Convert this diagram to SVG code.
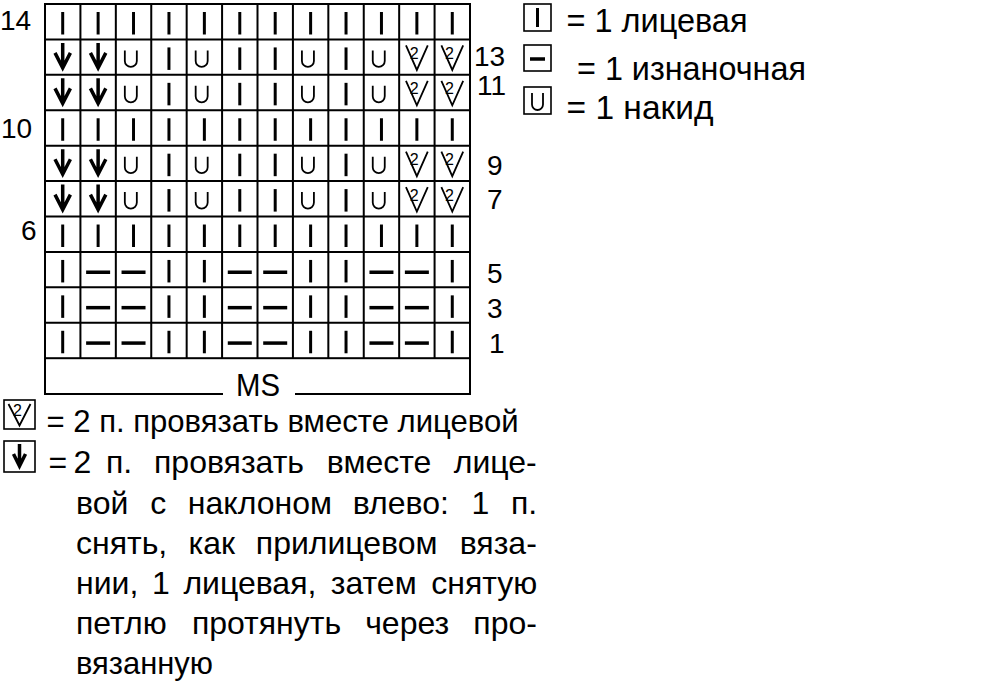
<svg xmlns="http://www.w3.org/2000/svg" width="1000" height="699" viewBox="0 0 1000 699">
<style>
.t{font-family:"Liberation Sans",Arial,sans-serif;fill:#000}
.n{font-size:28px}
.l{font-size:32px}
.r{font-size:33px}
.ln{fill:none;stroke:#000;stroke-width:2}
.box{fill:none;stroke:#000;stroke-width:1.6}
.sk{stroke:#000;stroke-width:3;fill:none}
.sp{stroke:#000;stroke-width:3.5;fill:none}
.su{stroke:#000;stroke-width:1.8;fill:none}
.sa{stroke:#000;stroke-width:3.5;fill:none;stroke-linejoin:miter;stroke-miterlimit:10}
.sv{stroke:#000;stroke-width:1.8;fill:none;stroke-linejoin:miter}
.two{font-family:"Liberation Sans",Arial,sans-serif;font-size:16px;fill:#000}
</style>
<defs>
<g id="k"><line class="sk" x1="17.7" y1="8" x2="17.7" y2="30.5"/></g>
<g id="p"><line class="sp" x1="5.7" y1="20.3" x2="29.7" y2="20.3"/></g>
<g id="u"><path class="su" d="M9 11V21.5A6 6 0 0 0 21 21.5V11"/></g>
<g id="a"><path class="sa" d="M17.7 3.5V28M10 13.5L17.7 28.5L25.4 13.5"/></g>
<g id="v"><path class="sv" d="M6.8 6L17.7 30.5L28.6 6"/><text class="two" x="10.5" y="19.5">2</text></g>
</defs>
<rect width="1000" height="699" fill="#fff"/>

<g id="chart-grid">
<rect class="ln" x="45" y="4" width="425" height="354.2"/>
<path class="ln" d="M80.42 4V358.2M115.83 4V358.2M151.25 4V358.2M186.67 4V358.2M222.08 4V358.2M257.5 4V358.2M292.92 4V358.2M328.33 4V358.2M363.75 4V358.2M399.17 4V358.2M434.58 4V358.2M45 39.42H470M45 74.84H470M45 110.26H470M45 145.68H470M45 181.1H470M45 216.52H470M45 251.94H470M45 287.36H470M45 322.78H470"/>
<path class="ln" d="M45 358.2V394H223M295 394H470V358.2"/>
<text class="t" x="236" y="396" font-size="31" textLength="44" lengthAdjust="spacingAndGlyphs">MS</text>
</g>

<g id="row14">
<use href="#k" x="45" y="4"/><use href="#k" x="80.42" y="4"/><use href="#k" x="115.83" y="4"/><use href="#k" x="151.25" y="4"/><use href="#k" x="186.67" y="4"/><use href="#k" x="222.08" y="4"/><use href="#k" x="257.5" y="4"/><use href="#k" x="292.92" y="4"/><use href="#k" x="328.33" y="4"/><use href="#k" x="363.75" y="4"/><use href="#k" x="399.17" y="4"/><use href="#k" x="434.58" y="4"/>
</g>
<g id="row13">
<use href="#a" x="45" y="39.42"/><use href="#a" x="80.42" y="39.42"/><use href="#u" x="115.83" y="39.42"/><use href="#k" x="151.25" y="39.42"/><use href="#u" x="186.67" y="39.42"/><use href="#k" x="222.08" y="39.42"/><use href="#k" x="257.5" y="39.42"/><use href="#u" x="292.92" y="39.42"/><use href="#k" x="328.33" y="39.42"/><use href="#u" x="363.75" y="39.42"/><use href="#v" x="399.17" y="39.42"/><use href="#v" x="434.58" y="39.42"/>
</g>
<g id="row11">
<use href="#a" x="45" y="74.84"/><use href="#a" x="80.42" y="74.84"/><use href="#u" x="115.83" y="74.84"/><use href="#k" x="151.25" y="74.84"/><use href="#u" x="186.67" y="74.84"/><use href="#k" x="222.08" y="74.84"/><use href="#k" x="257.5" y="74.84"/><use href="#u" x="292.92" y="74.84"/><use href="#k" x="328.33" y="74.84"/><use href="#u" x="363.75" y="74.84"/><use href="#v" x="399.17" y="74.84"/><use href="#v" x="434.58" y="74.84"/>
</g>
<g id="row10">
<use href="#k" x="45" y="110.26"/><use href="#k" x="80.42" y="110.26"/><use href="#k" x="115.83" y="110.26"/><use href="#k" x="151.25" y="110.26"/><use href="#k" x="186.67" y="110.26"/><use href="#k" x="222.08" y="110.26"/><use href="#k" x="257.5" y="110.26"/><use href="#k" x="292.92" y="110.26"/><use href="#k" x="328.33" y="110.26"/><use href="#k" x="363.75" y="110.26"/><use href="#k" x="399.17" y="110.26"/><use href="#k" x="434.58" y="110.26"/>
</g>
<g id="row9">
<use href="#a" x="45" y="145.68"/><use href="#a" x="80.42" y="145.68"/><use href="#u" x="115.83" y="145.68"/><use href="#k" x="151.25" y="145.68"/><use href="#u" x="186.67" y="145.68"/><use href="#k" x="222.08" y="145.68"/><use href="#k" x="257.5" y="145.68"/><use href="#u" x="292.92" y="145.68"/><use href="#k" x="328.33" y="145.68"/><use href="#u" x="363.75" y="145.68"/><use href="#v" x="399.17" y="145.68"/><use href="#v" x="434.58" y="145.68"/>
</g>
<g id="row7">
<use href="#a" x="45" y="181.1"/><use href="#a" x="80.42" y="181.1"/><use href="#u" x="115.83" y="181.1"/><use href="#k" x="151.25" y="181.1"/><use href="#u" x="186.67" y="181.1"/><use href="#k" x="222.08" y="181.1"/><use href="#k" x="257.5" y="181.1"/><use href="#u" x="292.92" y="181.1"/><use href="#k" x="328.33" y="181.1"/><use href="#u" x="363.75" y="181.1"/><use href="#v" x="399.17" y="181.1"/><use href="#v" x="434.58" y="181.1"/>
</g>
<g id="row6">
<use href="#k" x="45" y="216.52"/><use href="#k" x="80.42" y="216.52"/><use href="#k" x="115.83" y="216.52"/><use href="#k" x="151.25" y="216.52"/><use href="#k" x="186.67" y="216.52"/><use href="#k" x="222.08" y="216.52"/><use href="#k" x="257.5" y="216.52"/><use href="#k" x="292.92" y="216.52"/><use href="#k" x="328.33" y="216.52"/><use href="#k" x="363.75" y="216.52"/><use href="#k" x="399.17" y="216.52"/><use href="#k" x="434.58" y="216.52"/>
</g>
<g id="row5">
<use href="#k" x="45" y="251.94"/><use href="#p" x="80.42" y="251.94"/><use href="#p" x="115.83" y="251.94"/><use href="#k" x="151.25" y="251.94"/><use href="#k" x="186.67" y="251.94"/><use href="#p" x="222.08" y="251.94"/><use href="#p" x="257.5" y="251.94"/><use href="#k" x="292.92" y="251.94"/><use href="#k" x="328.33" y="251.94"/><use href="#p" x="363.75" y="251.94"/><use href="#p" x="399.17" y="251.94"/><use href="#k" x="434.58" y="251.94"/>
</g>
<g id="row3">
<use href="#k" x="45" y="287.36"/><use href="#p" x="80.42" y="287.36"/><use href="#p" x="115.83" y="287.36"/><use href="#k" x="151.25" y="287.36"/><use href="#k" x="186.67" y="287.36"/><use href="#p" x="222.08" y="287.36"/><use href="#p" x="257.5" y="287.36"/><use href="#k" x="292.92" y="287.36"/><use href="#k" x="328.33" y="287.36"/><use href="#p" x="363.75" y="287.36"/><use href="#p" x="399.17" y="287.36"/><use href="#k" x="434.58" y="287.36"/>
</g>
<g id="row1">
<use href="#k" x="45" y="322.78"/><use href="#p" x="80.42" y="322.78"/><use href="#p" x="115.83" y="322.78"/><use href="#k" x="151.25" y="322.78"/><use href="#k" x="186.67" y="322.78"/><use href="#p" x="222.08" y="322.78"/><use href="#p" x="257.5" y="322.78"/><use href="#k" x="292.92" y="322.78"/><use href="#k" x="328.33" y="322.78"/><use href="#p" x="363.75" y="322.78"/><use href="#p" x="399.17" y="322.78"/><use href="#k" x="434.58" y="322.78"/>
</g>

<g id="row-numbers">
<text class="t n" x="0" y="30">14</text>
<text class="t n" x="474" y="66">13</text>
<text class="t n" x="477" y="95">11</text>
<text class="t n" x="1" y="138">10</text>
<text class="t n" x="487" y="175">9</text>
<text class="t n" x="487" y="209">7</text>
<text class="t n" x="21" y="240">6</text>
<text class="t n" x="487" y="283">5</text>
<text class="t n" x="487" y="318">3</text>
<text class="t n" x="489" y="353">1</text>
</g>

<g id="legend-knit">
<rect class="box" x="524" y="4" width="27" height="27"/>
<line class="sk" x1="537.5" y1="8" x2="537.5" y2="27" stroke-width="2.5"/>
<text class="t r" x="566.5" y="32" textLength="181" lengthAdjust="spacingAndGlyphs">= 1 лицевая</text>
</g>
<g id="legend-purl">
<rect class="box" x="524" y="45" width="27" height="26"/>
<line class="sp" x1="530" y1="59" x2="545" y2="59" stroke-width="3"/>
<text class="t r" x="577" y="80" textLength="229" lengthAdjust="spacingAndGlyphs">= 1 изнаночная</text>
</g>
<g id="legend-yo">
<rect class="box" x="524" y="87" width="27" height="27"/>
<path class="su" d="M532 93V104.5A5.5 5.5 0 0 0 543 104.5V93" stroke-width="1.6"/>
<text class="t r" x="566.5" y="119" textLength="147" lengthAdjust="spacingAndGlyphs">= 1 накид</text>
</g>

<g id="legend-k2tog">
<rect class="box" x="4" y="400" width="31" height="29"/>
<path class="sv" d="M8.5 404L19.5 425.5L30.5 404" stroke-width="1.6"/>
<text class="two" x="13" y="416" font-size="14">2</text>
<text class="t l" x="46.5" y="432" textLength="472" lengthAdjust="spacingAndGlyphs">= 2 п. провязать вместе лицевой</text>
</g>
<g id="legend-ssk">
<rect class="box" x="4" y="441" width="31" height="31"/>
<path class="sa" d="M19.5 444V465M13.5 454L19.5 466L25.5 454" stroke-width="3"/>
<text class="t l" y="473"><tspan x="48.5">=</tspan><tspan x="73.5">2</tspan><tspan x="106">п.</tspan><tspan x="154">провязать</tspan><tspan x="326.8">вместе</tspan><tspan x="453.8">лице-</tspan></text>
<text class="t l" y="514"><tspan x="76">вой</tspan><tspan x="150.3">с</tspan><tspan x="187.8">наклоном</tspan><tspan x="352.8">влево:</tspan><tspan x="471.5">1</tspan><tspan x="510.9">п.</tspan></text>
<text class="t l" y="554"><tspan x="76">снять,</tspan><tspan x="188.6">как</tspan><tspan x="255.8">прилицевом</tspan><tspan x="459.7">вяза-</tspan></text>
<text class="t l" y="594"><tspan x="76">нии,</tspan><tspan x="152">1</tspan><tspan x="183.4">лицевая,</tspan><tspan x="330.8">затем</tspan><tspan x="431.3">снятую</tspan></text>
<text class="t l" y="634"><tspan x="76">петлю</tspan><tspan x="191.9">протянуть</tspan><tspan x="365.2">через</tspan><tspan x="473.3">про-</tspan></text>
<text class="t l" x="76" y="674" textLength="137" lengthAdjust="spacingAndGlyphs">вязанную</text>
</g>
</svg>
